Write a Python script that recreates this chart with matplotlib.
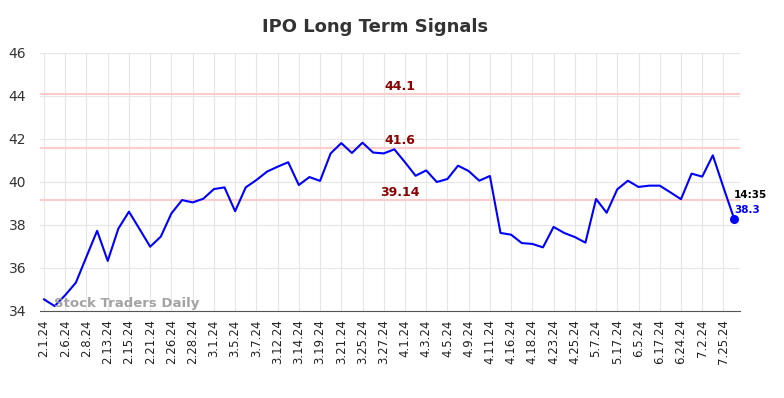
import matplotlib.pyplot as plt
import matplotlib.transforms as mtransforms

# Data
dates = ['2.1.24', '2.6.24', '2.8.24', '2.13.24', '2.15.24', '2.21.24', '2.26.24', '2.28.24',
         '3.1.24', '3.5.24', '3.7.24', '3.12.24', '3.14.24', '3.19.24', '3.21.24', '3.25.24',
         '3.27.24', '4.1.24', '4.3.24', '4.5.24', '4.9.24', '4.11.24', '4.16.24', '4.18.24',
         '4.23.24', '4.25.24', '5.7.24', '5.17.24', '6.5.24', '6.17.24', '6.24.24', '7.2.24',
         '7.25.24']
prices = [34.54, 34.23, 34.74, 35.32, 36.53, 37.73, 36.33, 37.83, 38.62, 37.81,
          36.99, 37.46, 38.54, 39.16, 39.05, 39.22, 39.67, 39.75, 38.64, 39.75,
          40.09, 40.48, 40.71, 40.92, 39.86, 40.23, 40.05, 41.33, 41.81, 41.35,
          41.83, 41.37, 41.33, 41.52, 40.92, 40.29, 40.54, 40.00, 40.14, 40.76,
          40.51, 40.06, 40.28, 37.63, 37.55, 37.16, 37.12, 36.96, 37.91, 37.63,
          37.44, 37.18, 39.21, 38.57, 39.66, 40.06, 39.77, 39.83, 39.83, 39.52,
          39.20, 40.39, 40.25, 41.24, 39.75, 38.30]
levels = [44.1, 41.6, 39.14]
level_labels = ['44.1', '41.6', '39.14']
last_time = '14:35'
last_label = '38.3'

fig = plt.figure(figsize=(7.84, 3.98), dpi=100)
ax = fig.add_axes([40 / 784, 1 - 311 / 398, 700 / 784, 258 / 398])

xs = list(range(len(prices)))
ax.plot(xs, prices, color='#0000ff', linewidth=1.5, zorder=3)
ax.scatter([xs[-1]], [prices[-1]], color='#0000ff', s=30, zorder=4)

# Support / resistance lines
trans = mtransforms.blended_transform_factory(ax.transAxes, ax.transData)
for lv, lb in zip(levels, level_labels):
    ax.axhline(lv, color='#ffcccc', linewidth=1.5, zorder=2)
    ax.text(0.514, lv + 0.05, lb, transform=trans, ha='center', va='bottom',
            color='#8b0000', fontsize=9, fontweight='bold')

# End annotation
ax.annotate(last_time, (xs[-1], prices[-1]), xytext=(0, 15), textcoords='offset points',
            fontsize=7.5, fontweight='bold', color='black')
ax.annotate(last_label, (xs[-1], prices[-1]), xytext=(0, 4), textcoords='offset points',
            fontsize=7.5, fontweight='bold', color='#0000ff')

ax.text(0.02, 0.015, 'Stock Traders Daily', transform=ax.transAxes, fontsize=9.5,
        fontweight='bold', color='#999999', alpha=0.9)

ax.set_xlim(-0.38, 65.56)
ax.set_ylim(34, 46)
ax.set_yticks(range(34, 47, 2))
ax.set_xticks(range(0, len(dates) * 2, 2))
ax.set_xticklabels(dates, rotation=90, fontsize=8.5)
ax.tick_params(axis='y', labelsize=10, colors='#333333', length=0, pad=10)
ax.tick_params(axis='x', length=0, pad=6, colors='#222222')
ax.grid(True, color='#e6e6e6', linewidth=0.8, zorder=0)
for s in ['top', 'right', 'left']:
    ax.spines[s].set_visible(False)
ax.spines['bottom'].set_color('#555555')

fig.suptitle('IPO Long Term Signals', x=375 / 784, y=0.955, fontsize=13,
             fontweight='bold', color='#333333')

fig.savefig('out.png', dpi=100)
